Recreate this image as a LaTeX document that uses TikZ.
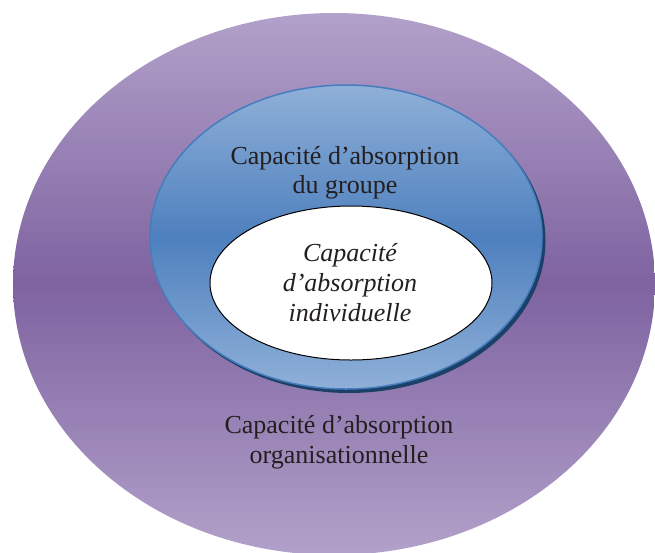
\documentclass[tikz,border=0pt]{standalone}
\usepackage{fontspec}
\setmainfont{Liberation Serif}
\usetikzlibrary{shapes.geometric}
\definecolor{lavtop}{RGB}{178,161,202}
\definecolor{lavmid}{RGB}{126,99,160}
\definecolor{bluelight}{RGB}{143,176,216}
\definecolor{bluemid}{RGB}{78,128,190}
\definecolor{blueedge}{RGB}{70,125,190}
\definecolor{blueshadow}{RGB}{28,65,105}
\definecolor{txt}{RGB}{35,31,32}
\tikzset{
  ring/.style={ellipse, inner sep=0pt, outer sep=0pt},
  lbl/.style={align=center, inner sep=0pt, text=txt, font=\fontsize{26}{29.5}\selectfont},
}
\begin{document}
\begin{tikzpicture}[x=1pt,y=-1pt]
\useasboundingbox (0,0) rectangle (655,552);
\begin{scope}
\clip (0,0) rectangle (655,552);
\node[ring, minimum width=642pt, minimum height=542pt,
      top color=lavtop, bottom color=lavtop, middle color=lavmid] (outer) at (334,284) {};
\node[ring, minimum width=393pt, minimum height=305pt, fill=blueshadow] (shadow) at (349,240.5) {};
\node[ring, minimum width=392pt, minimum height=304pt, draw=blueedge, line width=1.5pt,
      top color=bluelight, bottom color=bluelight, middle color=bluemid] (group) at (346,237) {};
\node[ring, minimum width=282pt, minimum height=154pt, draw=black, line width=1pt, fill=white] (indiv) at (351,283) {};
\end{scope}
\node[lbl, font=\fontsize{26}{28.5}\selectfont] (tgroup) at (345,173) {Capacité d’absorption\\du groupe};
\node[lbl, font=\fontsize{26}{30}\selectfont\itshape] (tindiv) at (350,283) {Capacité\\d’absorption\\individuelle};
\node[lbl, font=\fontsize{26}{30}\selectfont] (torg) at (339,442) {Capacité d’absorption\\organisationnelle};
\end{tikzpicture}
\end{document}
